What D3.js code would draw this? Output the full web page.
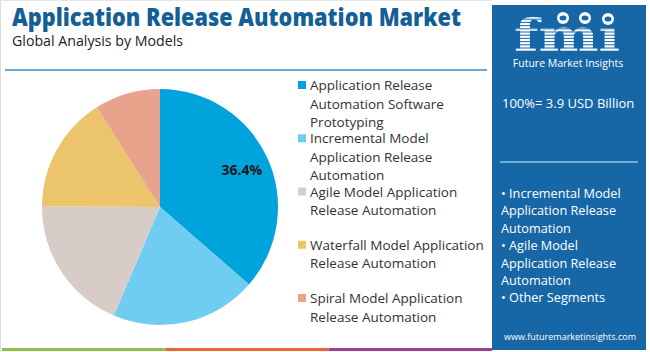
<!DOCTYPE html>
<html>
<head>
<meta charset="utf-8">
<script src="https://cdn.jsdelivr.net/npm/d3@7"></script>
<style>
  body { margin: 0; background: #fff; }
  svg { display: block; font-family: 'Open Sans', sans-serif; }
</style>
</head>
<body>
<div id="chart"></div>
<script>
// Data
const categories = [
    'Application Release Automation Software Prototyping',
    'Incremental Model Application Release Automation',
    'Agile Model Application Release Automation',
    'Waterfall Model Application Release Automation',
    'Spiral Model Application Release Automation'
];
const shares = [36.4, 20.0, 18.7, 15.9, 9.0];
const sliceColors = ['#00a3dc', '#6ecdf1', '#d7ccc8', '#ebc46c', '#e9a28b'];
const legendLines = [
    ['Application Release', 'Automation Software', 'Prototyping'],
    ['Incremental Model', 'Application Release', 'Automation'],
    ['Agile Model Application', 'Release Automation'],
    ['Waterfall Model Application', 'Release Automation'],
    ['Spiral Model Application', 'Release Automation']
];
const labelledShare = '36.4%';
const totalText = '100%= 3.9 USD Billion';
const bulletLines = [
    '• Incremental Model', 'Application Release', 'Automation',
    '• Agile Model', 'Application Release', 'Automation',
    '• Other Segments'
];

function draw() {
    const dimensions = { width: 650, height: 352 };

    const svg = d3.select('#chart')
        .append('svg')
        .attr('width', dimensions.width)
        .attr('height', dimensions.height);

    // frame
    svg.append('line')
        .attr('x1', 0.5).attr('x2', 0.5).attr('y1', 0).attr('y2', 352)
        .attr('stroke', '#dcdcdc');
    svg.append('line')
        .attr('x1', 0).attr('x2', 492).attr('y1', 0.5).attr('y2', 0.5)
        .attr('stroke', '#e6e6e6');

    // Title
    svg.append('text')
        .attr('x', 12).attr('y', 26)
        .attr('fill', '#135f96')
        .style('font-size', '24px')
        .style('font-weight', 800)
        .attr('textLength', 449)
        .attr('lengthAdjust', 'spacingAndGlyphs')
        .text('Application Release Automation Market');

    svg.append('text')
        .attr('x', 12).attr('y', 46)
        .attr('fill', '#222')
        .style('font-size', '14.2px')
        .text('Global Analysis by Models');

    svg.append('line')
        .attr('x1', 5).attr('x2', 487).attr('y1', 70).attr('y2', 70)
        .attr('stroke', '#3d89c0')
        .attr('stroke-width', 1.5);

    // Pie
    const radius = 118;
    const pieGroup = svg.append('g')
        .attr('transform', 'translate(160, 207)');

    const pie = d3.pie().sort(null).value(d => d);
    const arcs = pie(shares);
    const arc = d3.arc().innerRadius(0).outerRadius(radius);
    const labelArc = d3.arc().innerRadius(90).outerRadius(90);

    pieGroup.selectAll('path')
        .data(arcs)
        .join('path')
        .attr('d', arc)
        .attr('fill', (d, i) => sliceColors[i]);

    pieGroup.append('text')
        .attr('transform', `translate(${labelArc.centroid(arcs[0])})`)
        .attr('text-anchor', 'middle')
        .attr('dy', '0.35em')
        .attr('fill', '#1a1a1a')
        .style('font-size', '14px')
        .style('font-weight', 700)
        .text(labelledShare);

    // Legend
    const legendY = d3.scalePoint()
        .domain(categories)
        .range([85, 298]);

    const legend = svg.append('g');
    const items = legend.selectAll('g')
        .data(categories)
        .join('g')
        .attr('transform', d => `translate(298, ${legendY(d)})`);

    items.append('rect')
        .attr('x', 0).attr('y', -4)
        .attr('width', 8).attr('height', 8)
        .attr('fill', (d, i) => sliceColors[i]);

    items.append('text')
        .attr('fill', '#333')
        .style('font-size', '13.5px')
        .selectAll('tspan')
        .data((d, i) => legendLines[i])
        .join('tspan')
        .attr('x', 12)
        .attr('y', (d, j) => 5 + j * 18.6)
        .text(d => d);

    // Right panel
    const panel = svg.append('g');
    panel.append('rect')
        .attr('x', 492).attr('y', 5)
        .attr('width', 154).attr('height', 345)
        .attr('fill', '#1767a7');

    // logo
    const logo = panel.append('g');
    logo.append('text')
        .attr('x', 514).attr('y', 51)
        .attr('fill', '#fff')
        .style('font-family', "'DejaVu Serif', serif")
        .style('font-size', '44px')
        .style('font-weight', 700)
        .attr('textLength', 106)
        .attr('lengthAdjust', 'spacingAndGlyphs')
        .text('fmı');
    logo.selectAll('line.stripe')
        .data(d3.range(16, 52, 3.2))
        .join('line')
        .attr('class', 'stripe')
        .attr('x1', 510).attr('x2', 625)
        .attr('y1', d => d).attr('y2', d => d)
        .attr('stroke', '#1767a7')
        .attr('stroke-width', 1);
    const globes = [[563, 18], [585, 18], [608, 19]];
    logo.selectAll('circle')
        .data(globes)
        .join('circle')
        .attr('cx', d => d[0]).attr('cy', d => d[1])
        .attr('r', 6)
        .attr('fill', '#fff');
    logo.selectAll('ellipse')
        .data(globes)
        .join('ellipse')
        .attr('cx', d => d[0]).attr('cy', d => d[1])
        .attr('rx', 3.5).attr('ry', 2.5)
        .attr('fill', '#1767a7');
    logo.append('text')
        .attr('x', 568).attr('y', 67)
        .attr('text-anchor', 'middle')
        .attr('fill', '#fff')
        .style('font-size', '10.5px')
        .text('Future Market Insights');

    panel.append('text')
        .attr('x', 502).attr('y', 108)
        .attr('fill', '#fff')
        .style('font-size', '13px')
        .text(totalText);

    panel.append('line')
        .attr('x1', 500).attr('x2', 638).attr('y1', 162).attr('y2', 162)
        .attr('stroke', '#8ec4ea')
        .attr('stroke-width', 1.5);

    panel.append('text')
        .attr('fill', '#fff')
        .style('font-size', '12.7px')
        .selectAll('tspan')
        .data(bulletLines)
        .join('tspan')
        .attr('x', 501)
        .attr('y', (d, i) => 198 + i * 17.4)
        .text(d => d);

    panel.append('text')
        .attr('x', 570).attr('y', 340)
        .attr('text-anchor', 'middle')
        .attr('fill', '#fff')
        .style('font-size', '9px')
        .text('www.futuremarketinsights.com');

    // bottom colour strip
    const strip = ['#8cc152', '#e8643c', '#9a3f97'];
    const stripX = d3.scaleBand().domain(strip).range([2, 492]);
    svg.append('g').selectAll('rect')
        .data(strip)
        .join('rect')
        .attr('x', d => stripX(d))
        .attr('y', 348)
        .attr('width', stripX.bandwidth())
        .attr('height', 3)
        .attr('fill', d => d);
}

draw();
</script>
</body>
</html>
